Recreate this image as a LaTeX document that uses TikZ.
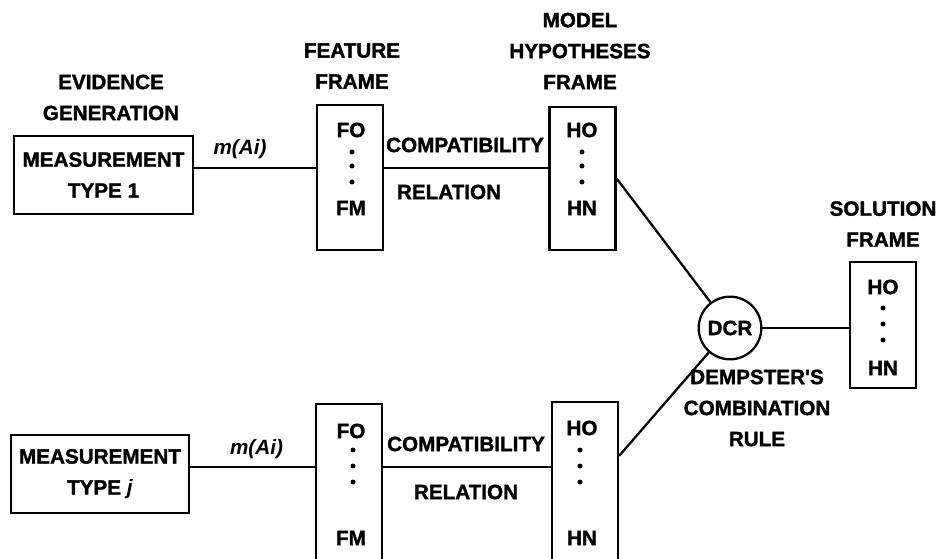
\documentclass[tikz,border=0pt]{standalone}
\usepackage{fontspec}
\setmainfont{Liberation Sans}[BoldFeatures={FakeBold=1.5}]
\usetikzlibrary{calc}

\tikzset{every picture/.style={line width=1.7pt}}
\tikzset{
	lbl/.style={font=\bfseries\fontsize{15.5}{23.25}\selectfont, align=center, inner sep=0pt},
	mlbl/.style={font=\bfseries\itshape\fontsize{15.5}{23.25}\selectfont, inner sep=0pt},
	framebox/.style={draw, inner sep=0pt, minimum width=49.5pt},
	measbox/.style={draw, lbl, minimum width=134pt, minimum height=59pt}}

\begin{document}
\begin{tikzpicture}[x=0.75pt,y=0.75pt,yscale=-1,xscale=1]
	\useasboundingbox (0,0) rectangle (939,559);
	\coordinate (rowA) at (0,168);
	\coordinate (rowB) at (0,467);

	%Shape: Rectangle
	\node[measbox] (measA) at (103.5,175) {MEASUREMENT\\TYPE 1};
	%Shape: Rectangle
	\node[measbox] (measB) at (100,474) {MEASUREMENT\\TYPE \textit{j}};
	%Shape: Rectangle
	\node[framebox, minimum height=108.75pt] (featA) at (350,177.5) {};
	%Shape: Rectangle
	\node[framebox, minimum height=107.25pt] (hypA) at (582.5,178.5) {};
	%Shape: Rectangle
	\node[framebox, minimum height=150pt] (featB) at (349,504) {};
	%Shape: Rectangle
	\node[framebox, minimum height=150pt] (hypB) at (585,502) {};
	%Shape: Rectangle
	\node[framebox, minimum height=94.5pt] (sol) at (883,325) {};
	%Shape: Circle
	\node[draw, circle, lbl, minimum size=47pt] (dcr) at (730,328) {DCR};

	%Straight Lines
	\draw (measA.east |- rowA) -- (featA.west |- rowA);
	\draw (featA.east |- rowA) -- (hypA.west |- rowA);
	\draw (measB.east |- rowB) -- (featB.west |- rowB);
	\draw (featB.east |- rowB) -- (hypB.west |- rowB);
	%Straight Lines
	\coordinate (hypBout) at ($(hypB.north east)+(0,55)$);
	\draw (hypA.east) -- (dcr);
	\draw (hypBout) -- (dcr);
	\draw (dcr.east) -- (sol.west |- dcr.east);

	% Text Node
	\node[lbl] (evidT) at (111,97.5) {EVIDENCE\\GENERATION};
	\node[lbl] (featT) at (352,66) {FEATURE\\FRAME};
	\node[lbl] (hypT) at (580,51) {MODEL\\HYPOTHESES\\FRAME};
	\node[lbl] (solT) at (883,224) {SOLUTION\\FRAME};
	\node[lbl] (dcrT) at (757,408) {DEMPSTER\textquotesingle S\\COMBINATION\\RULE};
	% Text Node
	\node[mlbl] (massA) at (240,149) {m(Ai)};
	\node[mlbl] (massB) at (256.5,449) {m(Ai)};
	\node[lbl] (compA) at (465,145) {COMPATIBILITY};
	\node[lbl] (relA) at (449,192) {RELATION};
	\node[lbl] (compB) at (466,444) {COMPATIBILITY};
	\node[lbl] (relB) at (466,492) {RELATION};

	% Text Node
	\node[lbl] (featAtop) at (351,130) {FO};
	\node[lbl] (featAbot) at (351,208) {FM};
	\node[lbl] (hypAtop) at (582,130) {HO};
	\node[lbl] (hypAbot) at (582,208) {HN};
	\node[lbl] (featBtop) at (351,431) {FO};
	\node[lbl] (featBbot) at (351,538) {FM};
	\node[lbl] (hypBtop) at (582,428) {HO};
	\node[lbl] (hypBbot) at (582,538) {HN};
	\node[lbl] (soltop) at (883,287) {HO};
	\node[lbl] (solbot) at (883,368) {HN};

	%Shape: Dots
	\fill (352,152) circle (2.5) (352,166) circle (2.5) (352,182) circle (2.5);
	\fill (582,152) circle (2.5) (582,166) circle (2.5) (582,182) circle (2.5);
	\fill (353,450) circle (2.5) (353,466) circle (2.5) (353,482) circle (2.5);
	\fill (580,450) circle (2.5) (580,466) circle (2.5) (580,482) circle (2.5);
	\fill (883,308) circle (2.5) (883,324) circle (2.5) (883,340) circle (2.5);

\end{tikzpicture}
\end{document}
